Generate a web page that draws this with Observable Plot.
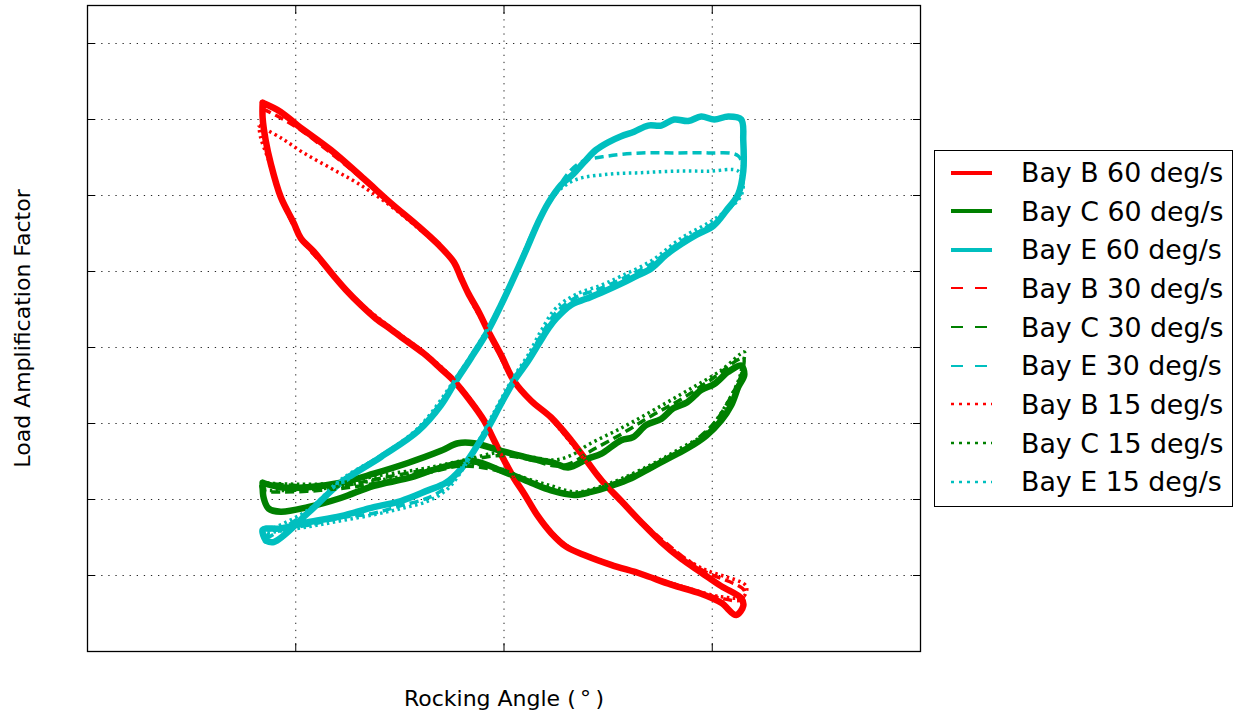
<!DOCTYPE html>
<html>
<head>
<meta charset="utf-8">
<script src="https://cdn.jsdelivr.net/npm/d3@7"></script>
<script src="https://cdn.jsdelivr.net/npm/@observablehq/plot@0.6"></script>
<style>
  body { margin: 0; background: #fff; font-family: "DejaVu Sans", sans-serif; }
  #wrap { position: relative; width: 1236px; height: 717px; }
  #legend { position: absolute; left: 934px; top: 150px; width: 297px; height: 355px;
            border: 1.3px solid #000; background: #fff; box-sizing: content-box; }
  .row { position: absolute; left: 0; height: 38px; display: flex; align-items: center; }
  .row span { position: absolute; left: 86px; font-size: 26.8px; white-space: nowrap; color: #000; }
  .row svg { position: absolute; left: 16px; }
</style>
</head>
<body>
<div id="wrap"></div>
<script>
// Axis ticks (no tick labels shown in the reference)
const xTicks = [-10, 0, 10];
const yTicks = [0.5, 1.0, 1.5, 2.0, 2.5, 3.0, 3.5, 4.0];
const xLabel = "Rocking Angle (\u2009°\u2009)";
const yLabel = "Load Amplification Factor";

const seriesNames = ["Bay B 60 deg/s", "Bay C 60 deg/s", "Bay E 60 deg/s",
                     "Bay B 30 deg/s", "Bay C 30 deg/s", "Bay E 30 deg/s",
                     "Bay B 15 deg/s", "Bay C 15 deg/s", "Bay E 15 deg/s"];

// [rocking angle, load amplification factor]
const bayB60 = [[-11.59,3.61],[-10.72,3.55],[-9.90,3.46],[-8.32,3.30],[-6.73,3.11],[-5.43,2.95],[-4.13,2.80],[-3.17,2.68],[-2.40,2.56],[-2.07,2.46],[-1.73,2.36],[-1.20,2.23],[-0.77,2.11],[-0.14,1.95],[0.48,1.78],[1.30,1.65],[2.26,1.54],[3.22,1.39],[3.94,1.26],[4.66,1.13],[5.63,0.99],[6.59,0.85],[7.55,0.72],[8.51,0.61],[9.47,0.52],[10.43,0.43],[11.39,0.35],[11.49,0.30],[11.15,0.24],[10.43,0.32],[9.47,0.38],[8.03,0.44],[6.59,0.51],[5.14,0.57],[3.94,0.63],[2.98,0.69],[2.26,0.78],[1.63,0.89],[0.96,1.04],[0.48,1.14],[0,1.26],[-0.48,1.39],[-0.96,1.52],[-1.68,1.66],[-2.40,1.78],[-3.03,1.86],[-3.85,1.96],[-4.95,2.07],[-5.43,2.12],[-6.15,2.19],[-6.88,2.28],[-7.60,2.38],[-8.17,2.47],[-9.13,2.63],[-9.76,2.72],[-10.10,2.82],[-10.72,2.99],[-11.20,3.21],[-11.44,3.36],[-11.59,3.51],[-11.59,3.61]];
const bayC60 = [[-11.59,1.11],[-10.72,1.08],[-9.42,1.08],[-7.84,1.11],[-6.25,1.17],[-4.62,1.24],[-3.03,1.32],[-2.21,1.37],[-1.44,1.37],[-0.14,1.32],[1.30,1.27],[2.40,1.24],[3.08,1.21],[4.04,1.27],[4.66,1.30],[5.63,1.39],[6.20,1.41],[6.83,1.49],[7.55,1.53],[8.13,1.60],[8.80,1.64],[9.47,1.72],[10.10,1.76],[10.77,1.84],[11.39,1.88],[11.54,1.82],[11.25,1.74],[10.91,1.62],[10.43,1.52],[9.71,1.42],[8.85,1.34],[8.03,1.28],[7.07,1.21],[6.11,1.14],[5.14,1.09],[4.18,1.05],[3.37,1.03],[2.26,1.06],[1.30,1.11],[-0.14,1.19],[-1.44,1.25],[-3.03,1.21],[-4.62,1.14],[-6.25,1.09],[-7.84,1.01],[-9.42,0.95],[-10.72,0.92],[-11.30,0.94],[-11.54,1.01],[-11.59,1.11]];
const bayE60 = [[-11.44,0.73],[-11.06,0.72],[-9.42,0.91],[-7.84,1.11],[-5.91,1.28],[-4.13,1.45],[-3.03,1.62],[-2.31,1.78],[-1.59,1.93],[-0.77,2.11],[-0.14,2.28],[0.34,2.42],[1.06,2.64],[1.63,2.82],[2.12,2.95],[2.74,3.07],[3.32,3.14],[3.85,3.22],[4.42,3.30],[5.00,3.35],[5.63,3.39],[6.25,3.42],[6.92,3.46],[7.55,3.46],[8.17,3.50],[8.85,3.49],[9.47,3.52],[10.10,3.50],[10.77,3.52],[11.39,3.50],[11.49,3.36],[11.49,3.16],[11.25,3.01],[10.67,2.90],[10.05,2.80],[9.23,2.74],[8.51,2.68],[7.79,2.61],[7.07,2.52],[6.35,2.47],[5.63,2.42],[4.66,2.36],[3.94,2.32],[3.22,2.28],[2.50,2.19],[2.16,2.13],[1.78,2.05],[1.15,1.91],[0.48,1.78],[-0.14,1.63],[-0.77,1.47],[-1.35,1.34],[-2.07,1.20],[-2.79,1.11],[-3.65,1.06],[-4.95,0.99],[-6.25,0.95],[-7.84,0.89],[-9.42,0.85],[-10.72,0.81],[-11.59,0.80],[-11.44,0.73]];
const bayB30 = [[-11.59,3.57],[-10.72,3.51],[-9.76,3.43],[-8.32,3.28],[-6.73,3.10],[-5.43,2.95],[-4.13,2.79],[-3.03,2.65],[-2.31,2.54],[-1.68,2.34],[-0.77,2.11],[0.48,1.78],[2.26,1.53],[3.94,1.26],[5.63,0.99],[7.55,0.74],[9.47,0.54],[11.54,0.40],[11.39,0.34],[10.43,0.35],[8.51,0.43],[6.59,0.51],[4.66,0.59],[2.98,0.70],[1.63,0.89],[0,1.26],[-0.96,1.52],[-2.40,1.78],[-3.85,1.96],[-5.43,2.12],[-6.88,2.28],[-8.17,2.47],[-9.76,2.72],[-10.72,2.99],[-11.20,3.21],[-11.54,3.43],[-11.59,3.57]];
const bayC30 = [[-11.68,1.11],[-9.76,1.09],[-7.84,1.09],[-5.91,1.14],[-3.99,1.19],[-2.55,1.22],[-1.59,1.26],[-0.14,1.29],[1.30,1.26],[2.50,1.22],[3.22,1.24],[4.18,1.32],[5.63,1.43],[7.07,1.55],[8.51,1.66],[9.95,1.79],[11.49,1.93],[11.39,1.82],[10.91,1.68],[10.19,1.52],[9.47,1.42],[8.51,1.32],[7.07,1.22],[5.14,1.10],[3.46,1.03],[2.26,1.07],[0.82,1.14],[-0.63,1.20],[-2.07,1.22],[-3.51,1.18],[-4.95,1.14],[-6.88,1.09],[-8.80,1.06],[-10.72,1.05],[-11.59,1.06],[-11.68,1.11]];
const bayE30 = [[-11.44,0.74],[-9.42,0.92],[-7.84,1.12],[-5.91,1.29],[-4.13,1.46],[-2.31,1.78],[-0.77,2.12],[0.34,2.43],[1.63,2.83],[2.50,3.02],[2.98,3.13],[3.70,3.22],[5.00,3.26],[6.59,3.28],[8.17,3.28],[9.81,3.28],[11.25,3.26],[11.49,3.13],[11.30,3.00],[10.05,2.82],[8.51,2.70],[7.07,2.55],[5.63,2.45],[4.66,2.39],[3.46,2.33],[2.50,2.23],[1.78,2.08],[1.15,1.93],[0.48,1.80],[-0.14,1.64],[-0.77,1.48],[-2.07,1.19],[-2.79,1.08],[-3.65,1.01],[-4.95,0.96],[-6.25,0.91],[-7.84,0.88],[-9.42,0.83],[-11.20,0.79],[-11.44,0.74]];
const bayB15 = [[-11.78,3.46],[-10.72,3.38],[-9.62,3.28],[-8.32,3.18],[-7.02,3.08],[-5.43,2.93],[-3.99,2.77],[-2.79,2.63],[-2.21,2.52],[-1.59,2.31],[-0.77,2.11],[0.48,1.78],[2.26,1.53],[3.94,1.25],[5.63,0.99],[7.55,0.73],[9.47,0.55],[11.63,0.43],[11.49,0.36],[10.43,0.36],[8.51,0.43],[6.59,0.51],[4.66,0.60],[2.98,0.70],[1.63,0.90],[0,1.26],[-0.96,1.53],[-2.40,1.79],[-3.85,1.97],[-5.43,2.13],[-6.88,2.29],[-8.17,2.47],[-9.76,2.73],[-10.72,2.99],[-11.30,3.23],[-11.68,3.38],[-11.78,3.46]];
const bayC15 = [[-11.68,1.11],[-9.76,1.10],[-7.84,1.11],[-5.91,1.16],[-3.99,1.20],[-2.55,1.24],[-1.59,1.27],[-0.14,1.31],[1.30,1.28],[2.40,1.26],[3.22,1.29],[4.04,1.36],[5.63,1.47],[7.21,1.59],[8.85,1.72],[10.43,1.85],[11.54,1.97],[11.44,1.88],[11.25,1.78],[10.43,1.57],[9.62,1.43],[8.51,1.34],[7.07,1.23],[5.14,1.11],[3.46,1.05],[2.26,1.09],[0.82,1.15],[-0.63,1.22],[-2.07,1.23],[-3.51,1.19],[-4.95,1.15],[-6.88,1.11],[-8.80,1.07],[-10.72,1.06],[-11.59,1.07],[-11.68,1.11]];
const bayE15 = [[-11.59,0.78],[-9.42,0.93],[-7.84,1.13],[-5.91,1.29],[-4.13,1.47],[-2.31,1.80],[-0.77,2.13],[0.34,2.43],[1.63,2.83],[2.40,3.00],[3.37,3.10],[5.00,3.14],[6.59,3.15],[8.17,3.16],[9.81,3.16],[11.25,3.16],[11.49,3.07],[11.30,2.98],[10.05,2.84],[8.51,2.72],[7.07,2.57],[5.63,2.47],[4.66,2.41],[3.46,2.35],[2.50,2.26],[1.78,2.11],[1.15,1.95],[0.48,1.81],[-0.14,1.66],[-0.77,1.50],[-2.07,1.18],[-2.79,1.06],[-3.65,0.99],[-4.95,0.94],[-6.25,0.90],[-7.84,0.86],[-9.42,0.82],[-11.44,0.78],[-11.59,0.78]];

const seriesData = [bayB60, bayC60, bayE60, bayB30, bayC30, bayE30, bayB15, bayC15, bayE15];

// styles (kept separate from the values)
const colorOf = {B: "#ff0000", C: "#008000", E: "#00bfbf"};
const styleOf = {
  "60": {strokeWidth: 6.5, strokeDasharray: null, legendWidth: 4, legendDash: null},
  "30": {strokeWidth: 3.5, strokeDasharray: "9,5", legendWidth: 2, legendDash: "12,12"},
  "15": {strokeWidth: 3.5, strokeDasharray: "2.5,3.5", legendWidth: 2.5, legendDash: "3,5"}
};
const series = seriesNames.map((name, i) => {
  const bay = name.split(" ")[1], speed = name.split(" ")[2];
  return {name, color: colorOf[bay], ...styleOf[speed], pts: seriesData[i]};
});

const lineMarks = series.map(s => Plot.line(s.pts, {
  x: d => d[0], y: d => d[1],
  stroke: s.color, strokeWidth: s.strokeWidth,
  strokeDasharray: s.strokeDasharray || undefined,
  strokeLinejoin: "round", strokeLinecap: s.strokeDasharray ? "butt" : "round",
  curve: "catmull-rom"
}));

const grid = {stroke: "#000", strokeOpacity: 0.85, strokeWidth: 1, strokeDasharray: "1.3,5.8"};
const noText = () => "";

const chart = Plot.plot({
  width: 1236, height: 717,
  marginLeft: 87, marginRight: 316, marginTop: 5, marginBottom: 66,
  style: {fontFamily: "DejaVu Sans, sans-serif", background: "#fff"},
  x: {domain: [-20, 20]},
  y: {domain: [0, 4.25]},
  marks: [
    Plot.gridX(xTicks, grid),
    Plot.gridY(yTicks, grid),
    ...lineMarks,
    Plot.frame({stroke: "#000", strokeWidth: 1.3}),
    Plot.axisX(xTicks, {anchor: "bottom", tickSize: -8, tickFormat: noText, label: null, stroke: "#000"}),
    Plot.axisX(xTicks, {anchor: "top", tickSize: -8, tickFormat: noText, label: null, stroke: "#000"}),
    Plot.axisY(yTicks, {anchor: "left", tickSize: -8, tickFormat: noText, label: null, stroke: "#000"}),
    Plot.axisY(yTicks, {anchor: "right", tickSize: -8, tickFormat: noText, label: null, stroke: "#000"}),
    Plot.text([xLabel], {text: d => d, frameAnchor: "bottom", dy: 47, lineAnchor: "middle", textAnchor: "middle", fontSize: 22, fill: "#000"}),
    Plot.text([yLabel], {text: d => d, frameAnchor: "left", dx: -65, rotate: -90, lineAnchor: "middle", textAnchor: "middle", fontSize: 22, fill: "#000"})
  ]
});

const wrap = document.getElementById("wrap");
wrap.appendChild(chart);

// legend
const legend = document.createElement("div");
legend.id = "legend";
series.forEach((s, i) => {
  const row = document.createElement("div");
  row.className = "row";
  row.style.top = (2.5 + i * 38.65) + "px";
  row.style.width = "297px";
  const dash = s.legendDash ? `stroke-dasharray="${s.legendDash}"` : "";
  row.innerHTML = `<svg width="42" height="10"><line x1="0" x2="41" y1="5" y2="5" stroke="${s.color}" stroke-width="${s.legendWidth}" ${dash}/></svg><span>${s.name}</span>`;
  legend.appendChild(row);
});
wrap.appendChild(legend);
</script>
</body>
</html>
